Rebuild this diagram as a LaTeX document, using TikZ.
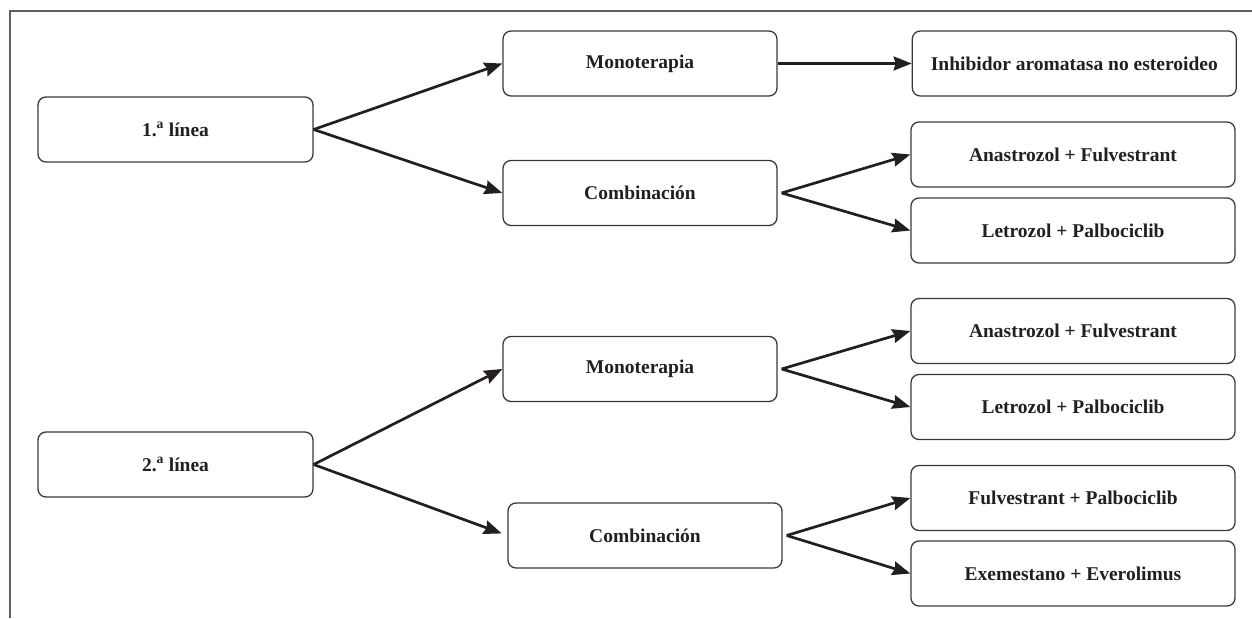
\documentclass[tikz,border=0pt]{standalone}
\usepackage{fontspec}
\setmainfont{Liberation Serif}
\usepackage{xcolor}
\usepackage{tikz}
\usetikzlibrary{arrows.meta, positioning}

\definecolor{inkdark}{HTML}{231F20}
\definecolor{boxline}{HTML}{3A3A3A}
\definecolor{framegray}{HTML}{5F5F5F}

\begin{document}
\begin{tikzpicture}[
        x=1pt, y=-1pt,
        line/.style = {rectangle, draw=boxline, line width=1.3pt, rounded corners=8pt, minimum width=275pt, minimum height=65pt, align=center, text=inkdark, font=\fontsize{19.5}{23}\selectfont\bfseries},
        mid/.style = {line, minimum width=274pt},
        drug/.style = {line, minimum width=324pt},
        arrow/.style = {-{Stealth[length=18pt, width=14pt, inset=2pt]}, line width=2.7pt, draw=inkdark},
        frame/.style = {draw=framegray, line width=2pt}
    ]
        \useasboundingbox (0,0) rectangle (1252,618);

        % Frame (top and left only)
        \coordinate (FrameBL) at (10,618);
        \coordinate (FrameTL) at (10,11);
        \coordinate (FrameTR) at (1252,11);
        \draw [frame] (FrameBL) -- (FrameTL) -- (FrameTR);

        % Column 1: treatment lines
        \node [line] (Linea1) at (175.5,129.5) {1.\textsuperscript{a} línea};
        \node [line] (Linea2) at (175.5,464.5) {2.\textsuperscript{a} línea};

        % Column 2: type of therapy
        \node [mid] (Mono1) at (640,63.5) {Monoterapia};
        \node [mid] (Comb1) at (640,193) {Combinación};
        \node [mid] (Mono2) at (640,369) {Monoterapia};
        \node [mid] (Comb2) at (645,535.5) {Combinación};

        % Column 3: drugs
        \node [drug, right=134pt of Mono1] (Inhib) {Inhibidor aromatasa no esteroideo};
        \node [drug] (AnaFul1) at (1073,154.5) {Anastrozol + Fulvestrant};
        \node [drug] (LetPal1) at (1073,230.5) {Letrozol + Palbociclib};
        \node [drug] (AnaFul2) at (1073,331) {Anastrozol + Fulvestrant};
        \node [drug] (LetPal2) at (1073,407) {Letrozol + Palbociclib};
        \node [drug] (FulPal) at (1073,498) {Fulvestrant + Palbociclib};
        \node [drug] (ExeEve) at (1073,573.5) {Exemestano + Everolimus};

        % Connections
        % 1.a linea
        \draw [arrow] (Linea1.east) -- (Mono1.west);
        \draw [arrow] (Linea1.east) -- (Comb1.west);
        \draw [arrow] (Mono1) -- (Inhib);
        \draw [arrow] ([xshift=4pt]Comb1.east) -- (AnaFul1.west);
        \draw [arrow] ([xshift=4pt]Comb1.east) -- (LetPal1.west);

        % 2.a linea
        \draw [arrow] (Linea2.east) -- (Mono2.west);
        \draw [arrow, shorten >=6pt] (Linea2.east) -- (Comb2.west);
        \draw [arrow] ([xshift=4pt]Mono2.east) -- (AnaFul2.west);
        \draw [arrow] ([xshift=4pt]Mono2.east) -- (LetPal2.west);
        \draw [arrow] ([xshift=4pt]Comb2.east) -- (FulPal.west);
        \draw [arrow] ([xshift=4pt]Comb2.east) -- (ExeEve.west);

    \end{tikzpicture}
\end{document}
